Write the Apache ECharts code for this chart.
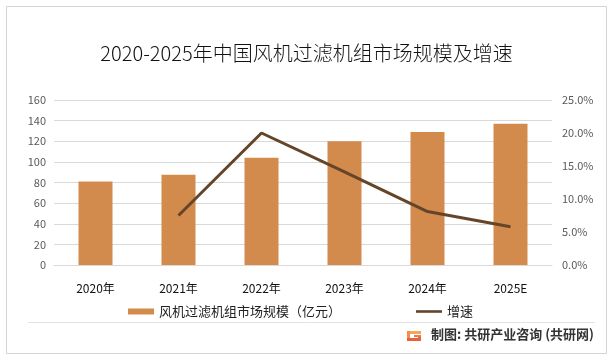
<!DOCTYPE html>
<html>
<head>
<meta charset="utf-8">
<script src="https://cdn.jsdelivr.net/npm/echarts@6/dist/echarts.min.js"></script>
<style>
html,body{margin:0;padding:0;background:#fff;}
#c{width:613px;height:361px;}
</style>
</head>
<body>
<div id="c"></div>
<script>
var categories = ['2020年', '2021年', '2022年', '2023年', '2024年', '2025E'];
var marketSize = [81, 87.5, 104, 120, 129, 137];
var growthRate = [null, 0.075, 0.200, 0.141, 0.081, 0.058];
var leftTicks = { min: 0, max: 160, interval: 20 };
var rightTicks = { min: 0, max: 0.25, interval: 0.05 };
var titleText = '2020-2025年中国风机过滤机组市场规模及增速';
var barName = '风机过滤机组市场规模（亿元）';
var lineName = '增速';
var footerText = '制图: 共研产业咨询 (共研网)';

var FONT = '"Noto Sans CJK SC", "Microsoft YaHei", sans-serif';
var chart = echarts.init(document.getElementById('c'), null, { renderer: 'canvas' });

var option = {
  backgroundColor: '#fff',
  animation: false,
  textStyle: { fontFamily: FONT },
  title: {
    text: titleText,
    left: 'center',
    top: 38,
    textStyle: { fontSize: 20, fontWeight: 300, color: '#111', fontFamily: FONT }
  },
  grid: { left: 54, right: 61, top: 100, bottom: 96, containLabel: false },
  legend: {
    top: 300,
    left: 123,
    itemGap: 75,
    itemWidth: 26,
    itemHeight: 6,
    textStyle: { fontSize: 13, color: '#222', fontFamily: FONT },
    data: [
      { name: barName, icon: 'rect' },
      { name: lineName, icon: 'path://M0,0 L26,0 L26,2.6 L0,2.6 Z', itemStyle: { color: '#654529' } }
    ]
  },
  xAxis: {
    type: 'category',
    data: categories,
    axisLine: { show: true, lineStyle: { color: '#D9D9D9', width: 1 } },
    axisTick: { show: false },
    axisLabel: { color: '#111', fontSize: 12, margin: 17, fontFamily: FONT }
  },
  yAxis: [
    {
      type: 'value',
      min: leftTicks.min, max: leftTicks.max, interval: leftTicks.interval,
      axisLine: { show: false },
      axisTick: { show: false },
      splitLine: { lineStyle: { color: '#D9D9D9', width: 1 } },
      axisLabel: { color: '#595959', fontSize: 11, margin: 8, fontFamily: FONT }
    },
    {
      type: 'value',
      min: rightTicks.min, max: rightTicks.max, interval: rightTicks.interval,
      axisLine: { show: false },
      axisTick: { show: false },
      splitLine: { show: false },
      axisLabel: {
        color: '#595959', fontSize: 11, margin: 10, fontFamily: FONT,
        formatter: function (v) { return (v * 100).toFixed(1) + '%'; }
      }
    }
  ],
  series: [
    {
      name: barName,
      type: 'bar',
      data: marketSize,
      barWidth: 34,
      itemStyle: { color: '#D38A4D' }
    },
    {
      name: lineName,
      type: 'line',
      yAxisIndex: 1,
      data: growthRate,
      symbol: 'none',
      showSymbol: false,
      lineStyle: { color: '#654529', width: 3 },
      itemStyle: { color: '#654529' }
    }
  ],
  graphic: [
    {
      type: 'rect',
      shape: { x: 6.5, y: 6.5, width: 600, height: 347 },
      style: { fill: 'none', stroke: '#D4D4D4', lineWidth: 1 },
      silent: true
    },
    {
      type: 'line',
      shape: { x1: 28, y1: 322.5, x2: 595, y2: 322.5 },
      style: { stroke: '#E2E2E2', lineWidth: 1 },
      silent: true
    },
    {
      type: 'group',
      left: 407, top: 331,
      children: [
        { type: 'rect', shape: { x: 0, y: 0, width: 14, height: 3 }, style: { fill: '#F6A65A' } },
        { type: 'rect', shape: { x: 0, y: 0, width: 3, height: 10 }, style: { fill: '#F28E4A' } },
        { type: 'rect', shape: { x: 0, y: 7, width: 14, height: 3 }, style: { fill: '#E9603A' } },
        { type: 'rect', shape: { x: 11, y: 4, width: 3, height: 6 }, style: { fill: '#E9603A' } },
        { type: 'rect', shape: { x: 7, y: 4, width: 7, height: 2 }, style: { fill: '#EE7A42' } }
      ]
    },
    {
      type: 'text',
      right: 19, top: 328,
      style: {
        text: footerText,
        fill: '#333',
        font: 'bold 13px ' + FONT
      }
    }
  ]
};
chart.setOption(option);
</script>
</body>
</html>
